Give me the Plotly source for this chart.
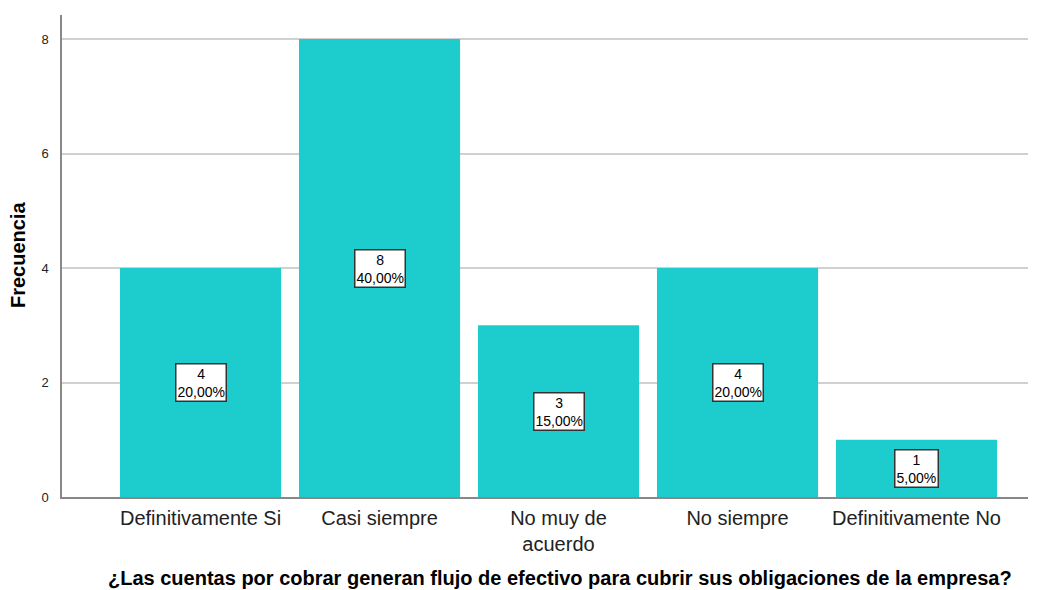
import plotly.graph_objects as go

categories = ["Definitivamente Si", "Casi siempre", "No muy de<br>acuerdo", "No siempre", "Definitivamente No"]
counts = [4, 8, 3, 4, 1]
percents = ["20,00%", "40,00%", "15,00%", "20,00%", "5,00%"]
y_ticks = [0, 2, 4, 6, 8]

FONT = "Arial, Liberation Sans, sans-serif"

fig = go.Figure()
fig.add_trace(go.Bar(
    x=categories, y=counts, width=0.9,
    marker=dict(color="#1DCDCD", line=dict(width=0)),
    hoverinfo="skip",
))

for c, v, p in zip(categories, counts, percents):
    fig.add_annotation(
        x=c, y=v / 2, text=f"{v}<br>{p}", showarrow=False,
        font=dict(family=FONT, size=14, color="#000"),
        bgcolor="white", bordercolor="#333", borderwidth=1.5, borderpad=1,
    )

# axis titles
fig.add_annotation(
    xref="paper", yref="paper", x=0.5155, y=-0.168, xanchor="center", yanchor="middle",
    text="<b>¿Las cuentas por cobrar generan flujo de efectivo para cubrir sus obligaciones de la empresa?</b>",
    showarrow=False, font=dict(family=FONT, size=20, color="#000"),
)
fig.add_annotation(
    xref="paper", yref="paper", x=-0.0455, y=0.502, xanchor="center", yanchor="middle",
    text="<b>Frecuencia</b>", textangle=-90,
    showarrow=False, font=dict(family=FONT, size=20, color="#000"),
)

fig.update_layout(
    width=1036, height=582,
    margin=dict(l=54, r=16, t=7, b=93),
    plot_bgcolor="white", paper_bgcolor="white",
    showlegend=False,
    font=dict(family=FONT, color="#222"),
    xaxis=dict(
        range=[-0.774, 4.623], showgrid=False, automargin=False,
        showline=True, linecolor="#888", linewidth=1.5,
        tickfont=dict(size=20, color="#222"), ticks="", ticklabelstandoff=2,
    ),
    yaxis=dict(
        range=[0, 8.42], tickvals=y_ticks, ticktext=[str(t) for t in y_ticks],
        showgrid=True, gridcolor="#D0D0D0", gridwidth=1.5, automargin=False,
        showline=True, linecolor="#888", linewidth=1.5,
        tickfont=dict(size=13, color="#222"), ticks="", ticklabelstandoff=9,
        zeroline=False,
    ),
    bargap=0.1,
)

fig.write_html("out.html")
